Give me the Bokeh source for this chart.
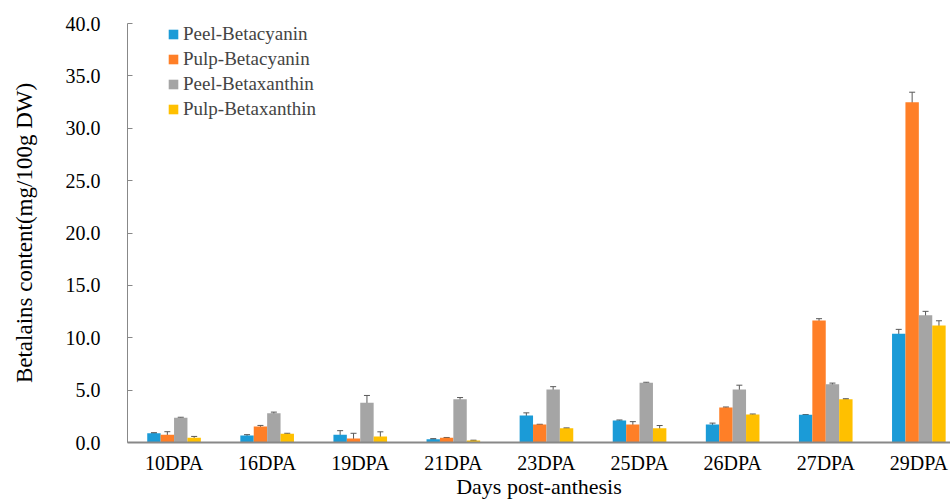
import numpy as np
from bokeh.plotting import figure
from bokeh.models import (ColumnDataSource, FixedTicker, NumeralTickFormatter, Whisker,
                          TeeHead, Legend, LegendItem, Range1d)
from bokeh.embed import file_html
from bokeh.resources import INLINE

categories = ["10DPA", "16DPA", "19DPA", "21DPA", "23DPA", "25DPA", "26DPA", "27DPA", "29DPA"]
series_names = ["Peel-Betacyanin", "Pulp-Betacyanin", "Peel-Betaxanthin", "Pulp-Betaxanthin"]
peel_bc = [0.89, 0.67, 0.73, 0.32, 2.58, 2.10, 1.72, 2.64, 10.37]
peel_bc_err = [0.05, 0.08, 0.40, 0.05, 0.25, 0.05, 0.13, 0.03, 0.43]
pulp_bc = [0.73, 1.53, 0.38, 0.45, 1.72, 1.72, 3.34, 11.65, 32.49]
pulp_bc_err = [0.30, 0.10, 0.50, 0.03, 0.02, 0.27, 0.05, 0.17, 0.95]
peel_bx = [2.36, 2.80, 3.79, 4.14, 5.06, 5.70, 5.06, 5.57, 12.15]
peel_bx_err = [0.05, 0.10, 0.70, 0.15, 0.27, 0.05, 0.41, 0.10, 0.37]
pulp_bx = [0.45, 0.83, 0.57, 0.19, 1.37, 1.37, 2.67, 4.13, 11.17]
pulp_bx_err = [0.13, 0.05, 0.45, 0.03, 0.02, 0.25, 0.05, 0.05, 0.45]
y_ticks = [0, 5, 10, 15, 20, 25, 30, 35, 40]

colors = ["#1b9bd7", "#ff7f27", "#a5a5a5", "#ffc000"]
values = [peel_bc, pulp_bc, peel_bx, pulp_bx]
errors = [peel_bc_err, pulp_bc_err, peel_bx_err, pulp_bx_err]

FONT = "Liberation Serif"
bar_w = 0.144
offsets = [-1.5, -0.5, 0.5, 1.5]

p = figure(width=950, height=500, output_backend="svg", toolbar_location=None,
           x_range=Range1d(0, 8.84), y_range=Range1d(0, 40),
           min_border_left=127, min_border_top=23, min_border_right=0, min_border_bottom=0)
p.frame_width = 823
p.frame_height = 419
p.outline_line_color = None
p.xgrid.visible = False
p.ygrid.visible = False

centers = np.arange(len(categories)) + 0.5
items = []
for name, col, vals, errs, off in zip(series_names, colors, values, errors, offsets):
    x = centers + off * bar_w
    v = np.array(vals)
    e = np.array(errs)
    src = ColumnDataSource(dict(x=x, top=v, upper=v + e, lower=np.clip(v - e, 0, None)))
    r = p.vbar(x="x", top="top", width=bar_w, source=src, fill_color=col, line_color=None)
    w = Whisker(base="x", upper="upper", lower="lower", source=src,
                line_color="#595959", line_width=1,
                upper_head=TeeHead(size=6, line_color="#595959", line_width=1),
                lower_head=TeeHead(size=6, line_color="#595959", line_width=1))
    p.add_layout(w)
    items.append(LegendItem(label=name, renderers=[r]))

legend = Legend(items=items, location=(40, 322), padding=0, spacing=3,
                glyph_width=12, glyph_height=12, label_height=12, label_standoff=4,
                label_text_font=FONT, label_text_font_size="19px",
                border_line_color=None, background_fill_alpha=0)
p.add_layout(legend)

# x axis
p.xaxis.ticker = FixedTicker(ticks=list(centers))
p.xaxis.major_label_overrides = {float(c): lab for c, lab in zip(centers, categories)}
p.xaxis.major_tick_in = 0
p.xaxis.major_tick_out = 0
p.xaxis.minor_tick_line_color = None
p.xaxis.axis_line_color = "#888888"
p.xaxis.axis_line_width = 2
p.xaxis.major_label_text_font = FONT
p.xaxis.major_label_text_font_size = "20px"
p.xaxis.major_label_text_color = "black"
p.xaxis.major_label_standoff = 9
p.xaxis.axis_label = "Days post-anthesis"
p.xaxis.axis_label_text_font = FONT
p.xaxis.axis_label_text_font_size = "22px"
p.xaxis.axis_label_text_font_style = "normal"
p.xaxis.axis_label_text_color = "black"
p.xaxis.axis_label_standoff = -3

# y axis
p.yaxis.ticker = FixedTicker(ticks=y_ticks)
p.yaxis.formatter = NumeralTickFormatter(format="0.0")
p.yaxis.major_tick_in = 5
p.yaxis.major_tick_out = 0
p.yaxis.major_tick_line_color = "#888888"
p.yaxis.minor_tick_line_color = None
p.yaxis.axis_line_color = "#888888"
p.yaxis.major_label_text_font = FONT
p.yaxis.major_label_text_font_size = "20px"
p.yaxis.major_label_text_color = "black"
p.yaxis.major_label_standoff = 27
p.yaxis.axis_label = "Betalains content(mg/100g DW)"
p.yaxis.axis_label_text_font = FONT
p.yaxis.axis_label_text_font_size = "23px"
p.yaxis.axis_label_text_font_style = "normal"
p.yaxis.axis_label_text_color = "black"
p.yaxis.axis_label_standoff = 26

open("out.html", "w").write(file_html(p, INLINE))
